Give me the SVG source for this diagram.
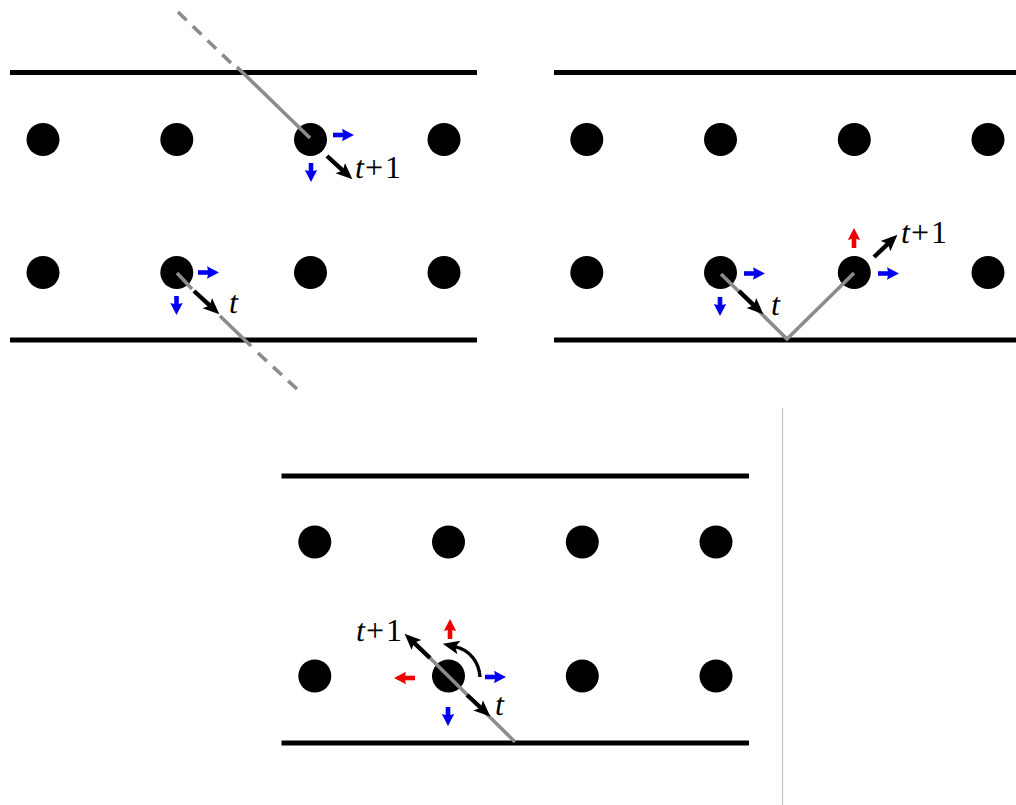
<svg xmlns="http://www.w3.org/2000/svg" width="1016" height="805" viewBox="0 0 1016 805">
<style>
.wall{stroke:#000;stroke-width:5;fill:none}
.dot{fill:#000}
.ray{stroke:#8c8c8c;stroke-width:3.6;fill:none}
.dash{stroke-dasharray:12 8.500}
.k{stroke:#000;stroke-width:4.400;fill:none;marker-end:url(#mk)}
.arc{stroke:#000;stroke-width:3.400;fill:none;marker-end:url(#mk)}
.b{stroke:#0000f0;stroke-width:4.600;fill:none;marker-end:url(#mb)}
.r{stroke:#ee0000;stroke-width:4.600;fill:none;marker-end:url(#mr)}
.lab{font-family:"Liberation Serif",serif;font-size:32px;fill:#000;text-rendering:geometricPrecision}
.lab .i{font-style:italic}
</style>
<defs>
<marker id="mk" markerUnits="userSpaceOnUse" markerWidth="18" markerHeight="18" refX="4" refY="9" orient="auto"><path d="M0 2 L16.500 9 L0 16 L3.500 9Z" fill="#000"/></marker>
<marker id="mb" markerUnits="userSpaceOnUse" markerWidth="14" markerHeight="14" refX="3" refY="7" orient="auto"><path d="M0 .8 L12 7 L0 13.200 L1.500 7Z" fill="#0000f0"/></marker>
<marker id="mr" markerUnits="userSpaceOnUse" markerWidth="14" markerHeight="14" refX="3" refY="7" orient="auto"><path d="M0 .8 L12 7 L0 13.200 L1.500 7Z" fill="#ee0000"/></marker>
</defs>
<g id="walls">
<path class="wall" d="M10 72.500H477M10 340H477M554 72.500H1016M554 340H1016M281.500 476H749M281.500 743H749"/>
<path d="M782.500 408V805" stroke="#c4c4c4" stroke-width="1.200" fill="none"/>
</g>
<g id="a-n1"><circle class="dot" cx="43" cy="139.500" r="16.500"/></g>
<g id="a-n2"><circle class="dot" cx="176.800" cy="139.500" r="16.500"/></g>
<g id="a-n3"><circle class="dot" cx="310.500" cy="139.500" r="16.500"/></g>
<g id="a-n4"><circle class="dot" cx="444" cy="139.500" r="16.500"/></g>
<g id="a-n5"><circle class="dot" cx="43" cy="272.500" r="16.500"/></g>
<g id="a-n6"><circle class="dot" cx="176.800" cy="272.500" r="16.500"/></g>
<g id="a-n7"><circle class="dot" cx="310.500" cy="272.500" r="16.500"/></g>
<g id="a-n8"><circle class="dot" cx="444" cy="272.500" r="16.500"/></g>
<g id="b-n1"><circle class="dot" cx="586.800" cy="139.500" r="16.500"/></g>
<g id="b-n2"><circle class="dot" cx="720.500" cy="139.500" r="16.500"/></g>
<g id="b-n3"><circle class="dot" cx="854.300" cy="139.500" r="16.500"/></g>
<g id="b-n4"><circle class="dot" cx="988" cy="139.500" r="16.500"/></g>
<g id="b-n5"><circle class="dot" cx="586.800" cy="272.500" r="16.500"/></g>
<g id="b-n6"><circle class="dot" cx="720.500" cy="272.500" r="16.500"/></g>
<g id="b-n7"><circle class="dot" cx="854.300" cy="272.500" r="16.500"/></g>
<g id="b-n8"><circle class="dot" cx="988" cy="272.500" r="16.500"/></g>
<g id="c-n1"><circle class="dot" cx="314.800" cy="542" r="16.500"/></g>
<g id="c-n2"><circle class="dot" cx="448.500" cy="542" r="16.500"/></g>
<g id="c-n3"><circle class="dot" cx="582.300" cy="542" r="16.500"/></g>
<g id="c-n4"><circle class="dot" cx="716" cy="542" r="16.500"/></g>
<g id="c-n5"><circle class="dot" cx="314.800" cy="676" r="16.500"/></g>
<g id="c-n6"><circle class="dot" cx="448.500" cy="676" r="16.500"/></g>
<g id="c-n7"><circle class="dot" cx="582.300" cy="676" r="16.500"/></g>
<g id="c-n8"><circle class="dot" cx="716" cy="676" r="16.500"/></g>
<g id="connectors">
<path class="ray dash" d="M178 12L231 63"/>
<path class="ray" d="M237 67L310 138"/>
<path class="ray" d="M177 273L192 289M220 316L251 346"/>
<path class="ray dash" d="M258 353L297 389"/>
<path class="ray" d="M721 274L787 339L854 273"/>
<path class="ray" d="M515 742L430 658"/>
<path class="k" d="M327 156L343.200 170.900"/>
<path class="k" d="M194 291L210.200 305.900"/>
<path class="k" d="M739 291L754.300 305.700"/>
<path class="k" d="M874 257L888.400 243.300"/>
<path class="k" d="M467 695L481.100 708"/>
<path class="k" d="M430 658L413.600 642.300"/>
<path class="arc" d="M480 677C479 662 470 650 455 646.600"/>
<path class="b" d="M333 135H345"/>
<path class="b" d="M311 163V173"/>
<path class="b" d="M198 272.500H210"/>
<path class="b" d="M176.500 296V306"/>
<path class="b" d="M744 273.500H756"/>
<path class="b" d="M720 297V307"/>
<path class="b" d="M878 273.500H890"/>
<path class="r" d="M854 248V237"/>
<path class="b" d="M485 677H497"/>
<path class="b" d="M448 707V717"/>
<path class="r" d="M415 678H403"/>
<path class="r" d="M450 639V628"/>
</g>
<g id="labels">
<text class="lab" x="355" y="178"><tspan class="i">t</tspan><tspan dx="1">+</tspan><tspan dx="2">1</tspan></text>
<text class="lab" x="229" y="313"><tspan class="i">t</tspan></text>
<text class="lab" x="771" y="315"><tspan class="i">t</tspan></text>
<text class="lab" x="901" y="243"><tspan class="i">t</tspan><tspan dx="1">+</tspan><tspan dx="2">1</tspan></text>
<text class="lab" x="356" y="641"><tspan class="i">t</tspan><tspan dx="1">+</tspan><tspan dx="2">1</tspan></text>
<text class="lab" x="495" y="715"><tspan class="i">t</tspan></text>
</g>
</svg>
